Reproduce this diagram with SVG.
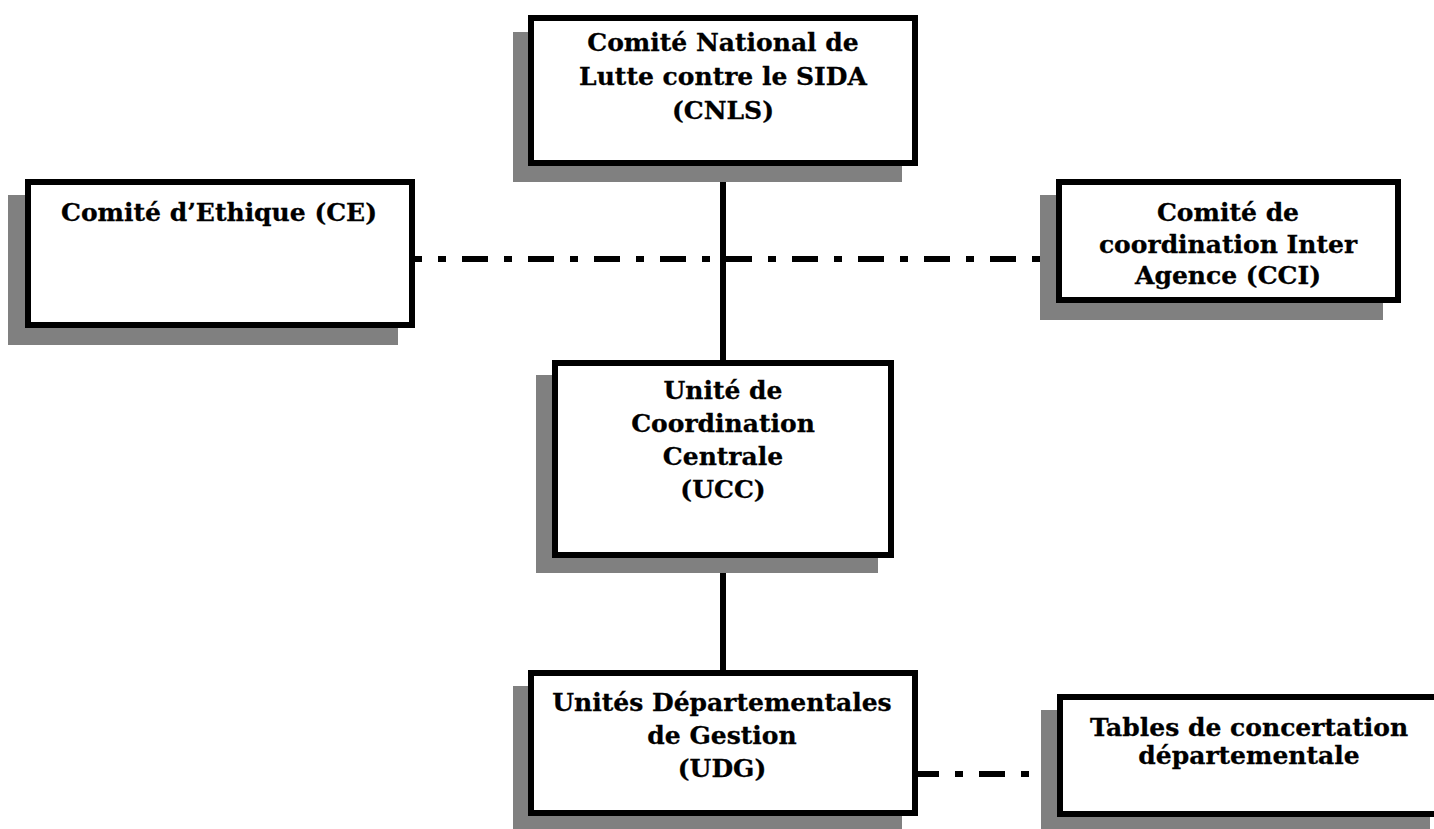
<svg xmlns="http://www.w3.org/2000/svg" width="1434" height="829" viewBox="0 0 1434 829">
<style>
.sh{fill:#808080;stroke:none}
.bx{fill:#fff;stroke:#000;stroke-width:6}
.t{font-family:"DejaVu Serif","Liberation Serif",serif;font-weight:bold;font-size:25px;fill:#000;stroke:#000;stroke-width:0.3;text-anchor:middle}
.solid{stroke:#000;stroke-width:6;fill:none}
.dd{stroke:#000;stroke-width:6;fill:none;stroke-dasharray:26 16 8 16}
</style>
<rect width="1434" height="829" fill="#fff"/>
<g id="connectors">
<line class="solid" x1="723" y1="163" x2="723" y2="363"/>
<line class="solid" x1="723" y1="555" x2="723" y2="673"/>
<line class="dd" x1="413" y1="259" x2="1058" y2="259" stroke-dashoffset="17"/>
<line class="dd" x1="916" y1="774" x2="1059" y2="774" stroke-dashoffset="3"/>
</g>
<g id="cnls">
<rect class="sh" x="513" y="32" width="389" height="150"/>
<rect class="bx" x="531" y="18" width="384" height="145"/>
<text class="t" x="723" y="51">Comité National de</text>
<text class="t" x="723" y="85">Lutte contre le SIDA</text>
<text class="t" x="723" y="119">(CNLS)</text>
</g>
<g id="ce">
<rect class="sh" x="8" y="195" width="390" height="150"/>
<rect class="bx" x="28" y="182" width="384" height="143"/>
<text class="t" x="219" y="221">Comité d’Ethique (CE)</text>
</g>
<g id="cci">
<rect class="sh" x="1040" y="195" width="343" height="125"/>
<rect class="bx" x="1059" y="182" width="339" height="118"/>
<text class="t" x="1228" y="221">Comité de</text>
<text class="t" x="1228" y="253">coordination Inter</text>
<text class="t" x="1228" y="284">Agence (CCI)</text>
</g>
<g id="ucc">
<rect class="sh" x="536" y="375" width="342" height="198"/>
<rect class="bx" x="555" y="363" width="336" height="192"/>
<text class="t" x="723" y="399">Unité de</text>
<text class="t" x="723" y="432">Coordination</text>
<text class="t" x="723" y="465">Centrale</text>
<text class="t" x="723" y="498">(UCC)</text>
</g>
<g id="udg">
<rect class="sh" x="513" y="686" width="389" height="150"/>
<rect class="bx" x="531" y="673" width="384" height="140"/>
<text class="t" x="722" y="711">Unités Départementales</text>
<text class="t" x="722" y="744">de Gestion</text>
<text class="t" x="722" y="777">(UDG)</text>
</g>
<g id="tables">
<rect class="sh" x="1041" y="710" width="389" height="130"/>
<rect class="bx" x="1060" y="697" width="383" height="117"/>
<text class="t" x="1249" y="736">Tables de concertation</text>
<text class="t" x="1249" y="764">départementale</text>
</g>
</svg>
